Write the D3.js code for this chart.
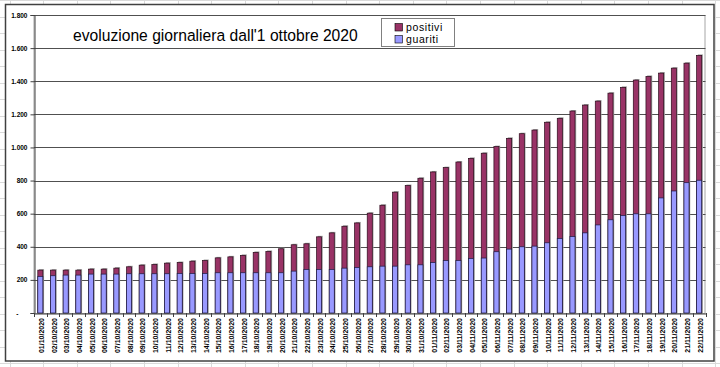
<!DOCTYPE html>
<html>
<head>
<meta charset="utf-8">
<script src="https://cdn.jsdelivr.net/npm/d3@7"></script>
<style>
  body { margin: 0; background: #fff; }
  svg { display: block; }
</style>
</head>
<body>
<svg id="chart" width="720" height="367"></svg>
<script>
// dates (categories) - one per day from 01/10/2020 to 22/11/2020
const dates = [
    "01/10/2020", "02/10/2020", "03/10/2020", "04/10/2020", "05/10/2020", "06/10/2020", "07/10/2020",
    "08/10/2020", "09/10/2020", "10/10/2020", "11/10/2020", "12/10/2020", "13/10/2020", "14/10/2020",
    "15/10/2020", "16/10/2020", "17/10/2020", "18/10/2020", "19/10/2020", "20/10/2020", "21/10/2020",
    "22/10/2020", "23/10/2020", "24/10/2020", "25/10/2020", "26/10/2020", "27/10/2020", "28/10/2020",
    "29/10/2020", "30/10/2020", "31/10/2020", "01/11/2020", "02/11/2020", "03/11/2020", "04/11/2020",
    "05/11/2020", "06/11/2020", "07/11/2020", "08/11/2020", "09/11/2020", "10/11/2020", "11/11/2020",
    "12/11/2020", "13/11/2020", "14/11/2020", "15/11/2020", "16/11/2020", "17/11/2020", "18/11/2020",
    "19/11/2020", "20/11/2020", "21/11/2020", "22/11/2020"
];

// cumulative positives (top of the maroon bar)
const positivi = [
    259, 259, 259, 259, 265, 265, 271, 279, 289, 293, 301, 305, 313, 317,
    333, 339, 348, 366, 372, 388, 412, 418, 460, 484, 524, 544, 603, 651,
    730, 770, 814, 852, 878, 912, 934, 965, 1005, 1055, 1083, 1105, 1152, 1176,
    1220, 1256, 1280, 1328, 1363, 1407, 1429, 1449, 1479, 1509, 1556
];

// recovered (blue bar)
const guariti = [
    221, 225, 229, 229, 235, 235, 235, 237, 237, 237, 237, 239, 239, 239,
    243, 243, 243, 243, 243, 243, 253, 263, 263, 263, 271, 275, 279, 283,
    283, 291, 291, 305, 317, 317, 329, 332, 370, 386, 400, 404, 424, 450,
    462, 484, 532, 563, 589, 599, 599, 695, 737, 787, 802
];

const yTicks = [0, 200, 400, 600, 800, 1000, 1200, 1400, 1600, 1800];

const title = "evoluzione giornaliera dall'1 ottobre 2020";
const seriesNames = ["positivi", "guariti"];
const colors = { positivi: "#993366", guariti: "#9999ff" };

const svg = d3.select("#chart");
const W = 720, H = 367;

// spreadsheet cells behind the chart
const cells = svg.append("g").attr("stroke", "#dadada").attr("stroke-width", 1);
d3.range(-0.5, W, 33.6).forEach(x => {
    cells.append("line").attr("x1", Math.round(x + 10) + 0.5).attr("x2", Math.round(x + 10) + 0.5)
        .attr("y1", 0).attr("y2", H);
});
d3.range(0, H, 16.5).forEach(y => {
    cells.append("line").attr("y1", Math.round(y) + 0.5).attr("y2", Math.round(y) + 0.5)
        .attr("x1", 0).attr("x2", W);
});

// chart frame
svg.append("rect")
    .attr("x", 5.5).attr("y", 4.5).attr("width", 708.5).attr("height", 356.5)
    .attr("fill", "#fff").attr("stroke", "#404040").attr("stroke-width", 1.5);

const margin = { top: 15, right: 14.5, bottom: 54, left: 34 };
const plotW = W - margin.left - margin.right;
const plotH = H - margin.top - margin.bottom;

const x = d3.scaleBand()
    .domain(dates)
    .range([margin.left, margin.left + plotW])
    .paddingInner(0.6)
    .paddingOuter(0.3);

const y = d3.scaleLinear()
    .domain([0, 1800])
    .range([margin.top + plotH, margin.top]);

// plot area border (grey)
svg.append("rect")
    .attr("x", margin.left).attr("y", margin.top + 0.5)
    .attr("width", plotW - 0.5).attr("height", plotH)
    .attr("fill", "none").attr("stroke", "#a6a6a6").attr("stroke-width", 1);

const it = d3.formatLocale({ decimal: ",", thousands: ".", grouping: [3], currency: ["€", ""] });
const fmt = v => v === 0 ? "-" : it.format(",")(v);

// gridlines
svg.append("g")
    .selectAll("line")
    .data(yTicks.filter(d => d > 0))
    .join("line")
    .attr("x1", margin.left).attr("x2", margin.left + plotW)
    .attr("y1", d => Math.round(y(d)) + 0.5).attr("y2", d => Math.round(y(d)) + 0.5)
    .attr("stroke", "#505050").attr("stroke-width", 1);

// y axis
const yAxis = svg.append("g")
    .attr("transform", `translate(${margin.left + 0.5},0)`)
    .call(d3.axisLeft(y).tickValues(yTicks).tickFormat(fmt).tickSize(4).tickPadding(3));
yAxis.select(".domain").attr("stroke", "#404040");
yAxis.selectAll(".tick line").attr("stroke", "#404040");
yAxis.selectAll(".tick text")
    .attr("font-family", "'Liberation Sans', Arial, sans-serif")
    .attr("font-size", 6.5).attr("font-weight", "bold").attr("fill", "#000");
yAxis.selectAll(".tick text").filter(d => d === 0).attr("dx", -9);

// bars: shadow, positivi, guariti
const bars = svg.append("g");
bars.selectAll("rect.shadow")
    .data(dates)
    .join("rect")
    .attr("class", "shadow")
    .attr("x", d => x(d) + 1.2)
    .attr("y", (d, i) => y(positivi[i]) - 1)
    .attr("width", x.bandwidth())
    .attr("height", (d, i) => y(0) - y(positivi[i]) + 1)
    .attr("fill", "#a0a0a0");

bars.selectAll("rect.pos")
    .data(dates)
    .join("rect")
    .attr("class", "pos")
    .attr("x", d => x(d))
    .attr("y", (d, i) => y(positivi[i]))
    .attr("width", x.bandwidth())
    .attr("height", (d, i) => y(0) - y(positivi[i]))
    .attr("fill", colors.positivi)
    .attr("stroke", "#2a0a1a").attr("stroke-width", 0.7);

bars.selectAll("rect.gua")
    .data(dates)
    .join("rect")
    .attr("class", "gua")
    .attr("x", d => x(d))
    .attr("y", (d, i) => y(guariti[i]))
    .attr("width", x.bandwidth())
    .attr("height", (d, i) => y(0) - y(guariti[i]))
    .attr("fill", colors.guariti)
    .attr("stroke", "#1a1a40").attr("stroke-width", 0.7);

// x axis
const xAxis = svg.append("g")
    .attr("transform", `translate(0,${y(0) + 0.5})`)
    .call(d3.axisBottom(x).tickSize(0).tickFormat(""));
xAxis.select(".domain").attr("stroke", "#404040");

// tick marks between categories
svg.append("g")
    .selectAll("line")
    .data(d3.range(dates.length + 1))
    .join("line")
    .attr("x1", i => Math.round(margin.left + i * x.step()) + 0.5)
    .attr("x2", i => Math.round(margin.left + i * x.step()) + 0.5)
    .attr("y1", y(0)).attr("y2", y(0) + 4)
    .attr("stroke", "#404040");

// rotated date labels
svg.append("g")
    .selectAll("text")
    .data(dates)
    .join("text")
    .attr("transform", d => `translate(${x(d) + x.bandwidth() / 2 + 1},${y(0) + 5}) rotate(-90)`)
    .attr("text-anchor", "end")
    .attr("dominant-baseline", "central")
    .attr("font-family", "'Liberation Sans', Arial, sans-serif")
    .attr("font-size", 7).attr("font-weight", "bold")
    .attr("fill", "#000")
    .text(d => d);

// title, fitted to the width it has in the picture
const t = svg.append("text")
    .attr("x", 73).attr("y", 41)
    .attr("font-family", "'Liberation Sans', Arial, sans-serif")
    .attr("font-size", 16)
    .attr("fill", "#000")
    .text(title);
const tw = t.node().getComputedTextLength();
t.attr("font-size", 16 * 285 / tw);

// legend
const lg = svg.append("g");
lg.append("rect")
    .attr("x", 381.5).attr("y", 18.5).attr("width", 73).attr("height", 28)
    .attr("fill", "#fff").attr("stroke", "#808080").attr("stroke-width", 1);
seriesNames.forEach((s, i) => {
    lg.append("rect")
        .attr("x", 395).attr("y", 23.5 + i * 12).attr("width", 7.5).attr("height", 7.5)
        .attr("fill", colors[s]).attr("stroke", "#000").attr("stroke-width", 0.6);
    lg.append("text")
        .attr("x", 406).attr("y", 30.5 + i * 12)
        .attr("font-family", "'Liberation Sans', Arial, sans-serif")
        .attr("font-size", 10.5)
        .attr("letter-spacing", 0.6)
        .attr("fill", "#000")
        .text(s);
});
</script>
</body>
</html>
